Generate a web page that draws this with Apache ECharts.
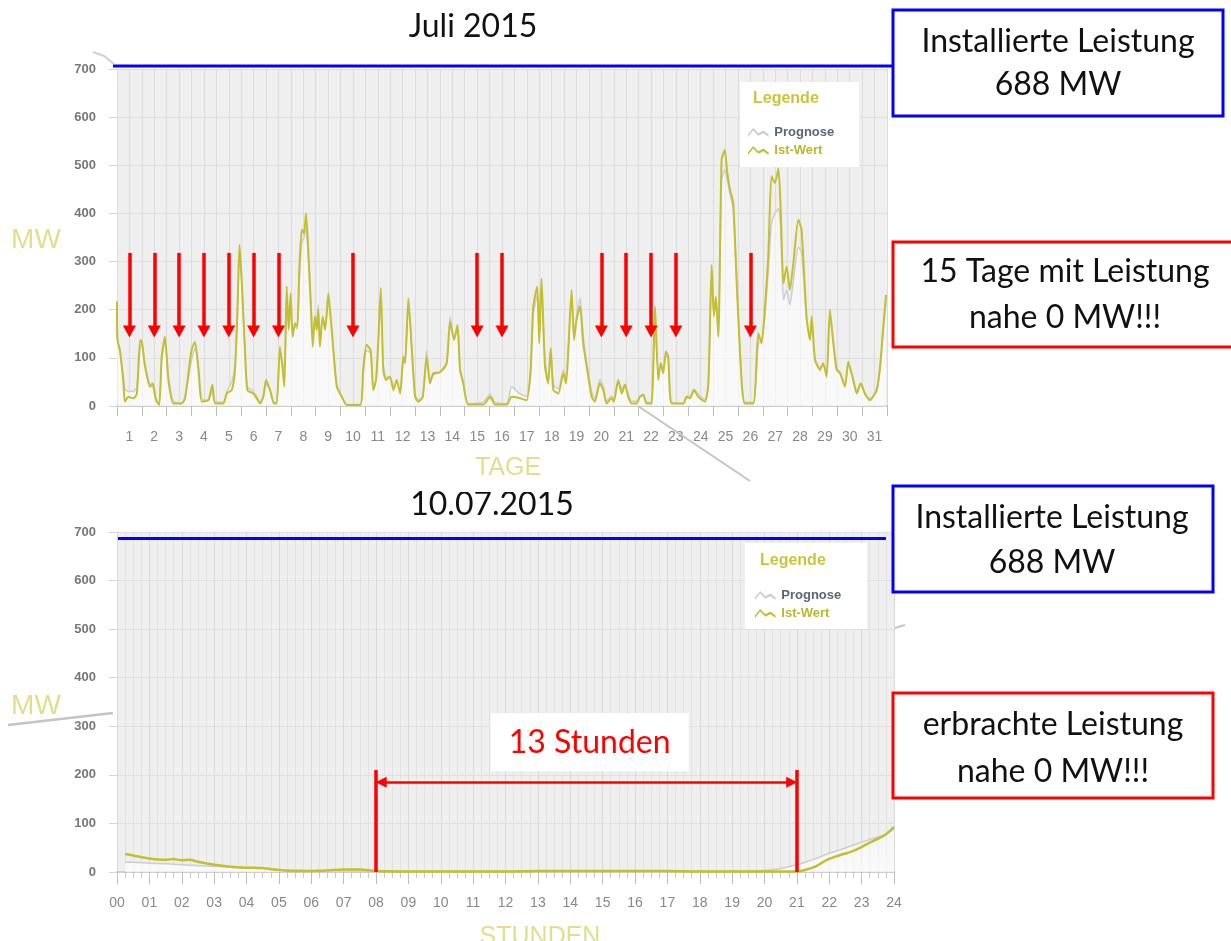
<!DOCTYPE html>
<html>
<head>
<meta charset="utf-8">
<script src="https://cdn.jsdelivr.net/npm/echarts@6/dist/echarts.min.js"></script>
<style>
  html, body { margin: 0; padding: 0; background: #fff; }
  #main { width: 1231px; height: 941px; }
</style>
</head>
<body>
<div id="main"></div>
<script>
  // Juli 2015 – Zeitpunkte in Tagen seit 1.7. 00:00
  const tage = [
    0, 0.02, 0.12, 0.26, 0.32, 0.46, 0.66, 0.8, 0.93,
    1.0, 1.13, 1.33, 1.44, 1.57, 1.7, 1.8, 1.93,
    2.07, 2.27, 2.6, 2.74,
    3.0, 3.14, 3.28, 3.41, 3.68, 3.84, 3.95,
    4.28, 4.42, 4.62, 4.75, 4.85, 4.93,
    5.02, 5.15, 5.25, 5.49, 5.62, 5.76, 5.89,
    6.0, 6.16, 6.32, 6.43, 6.56, 6.67, 6.74, 6.83, 6.91, 6.99,
    7.07, 7.17, 7.26, 7.34, 7.44, 7.53, 7.61, 7.7, 7.81, 7.88, 7.97,
    8.04, 8.1, 8.17, 8.28, 8.38, 8.51, 8.62, 8.71, 8.85,
    9.05, 9.25, 9.79, 9.92,
    10.05, 10.21, 10.32, 10.43, 10.52, 10.62, 10.72, 10.83, 10.99,
    11.13, 11.26, 11.4, 11.53, 11.6, 11.73, 11.87,
    12.0, 12.13, 12.31, 12.47, 12.6, 12.74,
    13.0, 13.27, 13.41, 13.57, 13.71, 13.81, 13.94,
    14.14, 14.75,
    15.02, 15.22, 15.69, 15.89,
    16.22, 16.49, 16.65, 16.76, 16.92,
    17.0, 17.09, 17.23, 17.36, 17.46, 17.57, 17.77, 17.97,
    18.08, 18.17, 18.3, 18.4, 18.5, 18.64, 18.77, 18.91,
    19.11, 19.24, 19.44, 19.58, 19.71, 19.91,
    20.0, 20.18, 20.32, 20.45, 20.58, 20.72, 20.92,
    21.05, 21.19, 21.32, 21.52, 21.66, 21.79, 21.89, 21.99,
    22.1, 22.19, 22.33, 22.8, 22.93,
    23.07, 23.23, 23.4, 23.67, 23.81, 23.94,
    24.03, 24.11, 24.21, 24.34, 24.47, 24.57, 24.68, 24.81, 24.95,
    25.15, 25.28, 25.62, 25.82, 25.95,
    26.09, 26.22, 26.35, 26.49, 26.63, 26.72, 26.83, 26.96,
    27.09, 27.23, 27.43, 27.56, 27.76, 27.9, 27.97,
    28.1, 28.3, 28.43, 28.57, 28.7, 28.84, 28.97,
    29.11, 29.31, 29.44, 29.64, 29.78, 29.94,
    30.11, 30.31, 30.58, 30.72, 30.85, 30.96
  ];
  const istWertMonat = [
    217, 137, 116, 47, 9, 19, 16, 26, 137,
    134, 82, 40, 47, 12, 2, 103, 144,
    54, 5, 5, 16,
    116, 133, 75, 9, 12, 44, 5,
    5, 26, 33, 75, 200, 335,
    262, 116, 33, 26, 16, 5, 19,
    54, 33, 5, 5, 123, 75, 40, 248, 158, 234,
    144, 172, 165, 283, 366, 359, 400, 324, 200, 123, 186,
    158, 200, 123, 186, 158, 234, 172, 116, 40,
    19, 2, 2, 82,
    127, 116, 33, 54, 137, 245, 75, 54, 61,
    33, 54, 26, 103, 89, 224, 116,
    19, 9, 19, 103, 47, 68,
    70, 89, 175, 137, 168, 75, 47,
    3, 3,
    19, 3, 3, 19,
    16, 12, 75, 207, 248,
    130, 265, 82, 47, 120, 33, 26, 68,
    47, 116, 241, 137, 179, 207, 130, 82,
    19, 9, 47, 33, 5, 16,
    9, 54, 26, 44, 19, 5, 5,
    19, 23, 5, 5, 207, 54, 89, 68,
    113, 103, 5, 5, 19,
    16, 33, 19, 9, 47, 293,
    186, 227, 144, 511, 532, 484, 449, 421, 255,
    47, 5, 5, 151, 130,
    207, 310, 477, 463, 494, 407, 255, 290,
    241, 297, 387, 366, 186, 137, 186,
    96, 75, 89, 61, 200, 130, 75,
    68, 40, 92, 54, 26, 47,
    26, 12, 33, 82, 165, 231
  ];
  const prognoseMonat = [
    200, 140, 110, 60, 35, 30, 30, 40, 120,
    130, 85, 45, 40, 15, 5, 95, 135,
    60, 10, 5, 20,
    95, 120, 80, 15, 12, 30, 8,
    8, 30, 50, 85, 190, 310,
    260, 120, 40, 30, 20, 8, 20,
    45, 35, 8, 8, 110, 90, 70, 210, 170, 200,
    150, 165, 160, 260, 340, 350, 370, 310, 210, 150, 180,
    170, 210, 150, 180, 165, 215, 175, 120, 45,
    20, 3, 3, 70,
    115, 110, 40, 55, 125, 220, 85, 60, 60,
    40, 50, 30, 95, 90, 210, 120,
    25, 12, 20, 115, 55, 65,
    70, 85, 185, 140, 160, 80, 50,
    5, 8,
    25, 8, 5, 40,
    25, 20, 60, 190, 230,
    140, 245, 95, 55, 110, 45, 35, 75,
    60, 120, 225, 150, 185, 225, 145, 90,
    30, 15, 55, 40, 10, 20,
    15, 50, 35, 45, 25, 10, 10,
    20, 25, 8, 8, 180, 70, 90, 75,
    105, 95, 8, 5, 20,
    20, 35, 25, 12, 50, 270,
    190, 220, 150, 470, 490, 470, 440, 410, 260,
    55, 8, 8, 130, 135,
    190, 280, 380, 400, 410, 370, 220, 240,
    210, 260, 330, 320, 180, 140, 170,
    100, 80, 85, 65, 185, 135, 80,
    70, 45, 85, 55, 30, 45,
    25, 15, 30, 75, 155, 220
  ];

  // 10.07.2015 – Stunden
  const stunden = [0.25, 0.5, 1, 1.5, 1.75, 2, 2.25, 2.5,
    3, 3.5, 4, 4.5, 5, 5.5, 6, 6.5, 7, 7.5, 8,
    9, 10, 11, 12, 13, 14, 15, 16, 17, 18, 19, 20,
    20.5, 21, 21.3, 21.6, 21.9, 22.3, 22.6, 22.9, 23.3, 23.7, 24];
  const istWertTag = [37, 34, 28, 25, 27, 24, 25, 21,
    15, 11, 9, 8, 4, 2, 2, 3, 5, 5, 2,
    1, 1, 1, 1, 2, 2, 2, 2, 2, 1, 1, 1,
    1, 1, 5, 12, 24, 34, 40, 48, 62, 75, 93];
  const prognoseTag = [20, 20, 18, 17, 16, 15, 14, 13,
    12, 10, 8, 7, 5, 4, 3, 3, 2, 2, 2,
    1, 1, 1, 1, 1, 1, 1, 1, 1, 1, 1, 3,
    7, 15, 21, 28, 36, 45, 52, 59, 68, 77, 88];

  const tagLabels = [];
  for (let d = 1; d <= 31; d++) tagLabels.push(String(d));
  const pfeilTage = [1, 2, 3, 4, 5, 6, 7, 10, 15, 16, 20, 21, 22, 23, 26];
  const installiert = 688;
  const nullStart = 8, nullEnde = 21;

  const GELB = '#c3bf30';
  const GRAU = '#cdcdcd';
  const ROT = '#ff0000';
  const BLAU = '#0000ff';
  const NAME_GELB = '#e2de8e';
  const FONT = 'Lato, "Open Sans", sans-serif';

  const zip = (xs, ys) => xs.map((x, i) => [x, ys[i]]);

  const flaeche = {
    color: new echarts.graphic.LinearGradient(0, 0, 0, 1, [
      { offset: 0, color: 'rgba(255,255,255,0.55)' },
      { offset: 1, color: 'rgba(255,255,255,0.95)' }
    ])
  };

  const myChart = echarts.init(document.getElementById('main'));

  const yAchse = (gridIndex) => ({
    type: 'value', gridIndex: gridIndex, min: 0, max: 700, interval: 100,
    axisLine: { show: false },
    axisTick: { show: true, length: 8, lineStyle: { color: '#d6d6d6' } },
    axisLabel: { color: '#777777', fontWeight: 'bold', fontSize: 13, margin: 21, fontFamily: 'Liberation Sans, Arial, sans-serif' },
    splitLine: { lineStyle: { color: '#e0e0e0', width: 1 } }
  });

  // Pfeile oben (15 Tage nahe 0 MW)
  const pfeile = pfeilTage.map(d => [
    { coord: [d - 0.5, 318], symbol: 'none' },
    { coord: [d - 0.5, 155], symbol: 'triangle', symbolSize: [13, 12] }
  ]);

  const mitte = { textAlign: 'center', textVerticalAlign: 'middle', align: 'center', verticalAlign: 'middle' };

  myChart.setOption({
    animation: false,
    backgroundColor: '#ffffff',
    grid: [
      { left: 117, right: 344, top: 69, height: 337, show: true, backgroundColor: '#efefef', borderWidth: 0 },
      { left: 117, right: 337, top: 532, height: 340, show: true, backgroundColor: '#efefef', borderWidth: 0 }
    ],
    xAxis: [
      {
        type: 'value', gridIndex: 0, min: 0, max: 31, interval: 0.5, position: 'bottom',
        axisLine: { show: false }, axisTick: { show: false }, axisLabel: { show: false },
        splitLine: { show: true, lineStyle: { color: '#dcdcdc' } }
      },
      {
        type: 'category', gridIndex: 0, data: tagLabels, boundaryGap: true, position: 'bottom',
        axisLine: { show: true, lineStyle: { color: '#cfcfcf', width: 2 } },
        axisTick: { show: true, length: 10, lineStyle: { color: '#bdbdbd' } },
        axisLabel: { interval: 0, color: '#888888', fontSize: 14, margin: 24, fontFamily: '"Liberation Sans Narrow", "Arial Narrow", sans-serif' },
        splitLine: { show: false }
      },
      {
        type: 'value', gridIndex: 1, min: 0, max: 24, interval: 1, position: 'bottom',
        axisLine: { show: true, lineStyle: { color: '#cfcfcf', width: 2 } },
        axisTick: { show: true, length: 12, lineStyle: { color: '#bdbdbd' } },
        minorTick: { show: true, splitNumber: 4, length: 6, lineStyle: { color: '#c8c8c8' } },
        axisLabel: {
          color: '#888888', fontSize: 14, margin: 24,
          fontFamily: '"Liberation Sans Narrow", "Arial Narrow", sans-serif',
          formatter: v => (v < 10 ? '0' : '') + v
        },
        splitLine: { show: true, lineStyle: { color: '#d9d9d9' } },
        minorSplitLine: { show: true, lineStyle: { color: '#e2e2e2' } }
      }
    ],
    yAxis: [yAchse(0), yAchse(1)],
    legend: [
      {
        left: 743, top: 121, orient: 'vertical', itemGap: 5, itemWidth: 22, itemHeight: 9, z: 120,
        selectedMode: false,
        icon: 'path://M0,6 L4,1 L8,5 L12,3 L16,6 L16,8 L12,5 L8,7 L4,3 L0,8Z',
        textStyle: { fontSize: 13, fontWeight: 'bold', fontFamily: 'Liberation Sans, Arial, sans-serif' },
        data: [
          { name: 'Prognose', textStyle: { color: '#5e6477' } },
          { name: 'Ist-Wert', textStyle: { color: '#bbb72c' } }
        ]
      },
      {
        left: 750, top: 584, orient: 'vertical', itemGap: 5, itemWidth: 22, itemHeight: 9, z: 120,
        selectedMode: false,
        icon: 'path://M0,6 L4,1 L8,5 L12,3 L16,6 L16,8 L12,5 L8,7 L4,3 L0,8Z',
        textStyle: { fontSize: 13, fontWeight: 'bold', fontFamily: 'Liberation Sans, Arial, sans-serif' },
        data: [
          { name: 'Prognose', textStyle: { color: '#5e6477' } },
          { name: 'Ist-Wert', textStyle: { color: '#bbb72c' } }
        ]
      }
    ],
    series: [
      {
        name: 'Prognose', type: 'line', xAxisIndex: 0, yAxisIndex: 0,
        data: zip(tage, prognoseMonat), showSymbol: false, smooth: 0.2,
        lineStyle: { color: GRAU, width: 1.5 }, itemStyle: { color: GRAU },
        areaStyle: flaeche, z: 2
      },
      {
        name: 'Ist-Wert', type: 'line', xAxisIndex: 0, yAxisIndex: 0,
        data: zip(tage, istWertMonat), showSymbol: false, smooth: 0.2,
        lineStyle: { color: GELB, width: 2 }, itemStyle: { color: GELB }, z: 3,
        markLine: {
          silent: true, animation: false, label: { show: false },
          lineStyle: { color: ROT, width: 3.5, type: 'solid' },
          emphasis: { disabled: true },
          data: pfeile
        }
      },
      {
        name: 'Prognose', type: 'line', xAxisIndex: 2, yAxisIndex: 1,
        data: zip(stunden, prognoseTag), showSymbol: false, smooth: 0.3,
        lineStyle: { color: GRAU, width: 1.5 }, itemStyle: { color: GRAU },
        areaStyle: flaeche, z: 2
      },
      {
        name: 'Ist-Wert', type: 'line', xAxisIndex: 2, yAxisIndex: 1,
        data: zip(stunden, istWertTag), showSymbol: false, smooth: 0.3,
        lineStyle: { color: GELB, width: 2.5 }, itemStyle: { color: GELB }, z: 3,
        markLine: {
          silent: true, animation: false, label: { show: false },
          lineStyle: { color: ROT, width: 3.5, type: 'solid' },
          emphasis: { disabled: true },
          data: [
            [{ coord: [0.03, installiert], symbol: 'none', lineStyle: { color: BLAU, width: 3 } },
             { coord: [23.75, installiert], symbol: 'none' }],
            [{ coord: [nullStart, 0], symbol: 'none' }, { coord: [nullStart, 210], symbol: 'none' }],
            [{ coord: [nullEnde, 0], symbol: 'none' }, { coord: [nullEnde, 210], symbol: 'none' }],
            [{ coord: [nullStart + 0.16, 185], symbol: 'triangle', symbolSize: [11, 11], lineStyle: { color: ROT, width: 2.5 } },
             { coord: [nullEnde - 0.16, 185], symbol: 'triangle', symbolSize: [11, 11] }]
          ]
        },
        markPoint: {
          silent: true, animation: false,
          data: [{
            coord: [14.6, 267], symbol: 'rect', symbolSize: [198, 58],
            itemStyle: { color: '#ffffff' },
            label: { show: true, position: 'inside', formatter: '13 Stunden', color: ROT, fontSize: 32, fontFamily: FONT }
          }]
        }
      }
    ],
    graphic: [
      // Titel
      { type: 'text', x: 473, y: 27, z: 100, style: Object.assign({ text: 'Juli 2015', font: '32px ' + FONT, fill: '#111' }, mitte) },
      { type: 'text', x: 492, y: 505, z: 100, style: Object.assign({ text: '10.07.2015', font: '32px ' + FONT, fill: '#111' }, mitte) },
      // Achsennamen
      { type: 'text', x: 36, y: 240, z: 100, style: Object.assign({ text: 'MW', font: '28px "Liberation Sans", Arial, sans-serif', fill: NAME_GELB }, mitte) },
      { type: 'text', x: 36, y: 706, z: 100, style: Object.assign({ text: 'MW', font: '28px "Liberation Sans", Arial, sans-serif', fill: NAME_GELB }, mitte) },
      { type: 'text', x: 508, y: 468, z: 100, style: Object.assign({ text: 'TAGE', font: '25px "Liberation Sans Narrow", "Liberation Sans", sans-serif', fill: NAME_GELB }, mitte) },
      { type: 'rect', z: 101, shape: { x: 460, y: 478, width: 100, height: 14 }, style: { fill: '#ffffff' } },
      { type: 'text', x: 540, y: 937, z: 100, style: Object.assign({ text: 'STUNDEN', font: '25px "Liberation Sans Narrow", "Liberation Sans", sans-serif', fill: NAME_GELB }, mitte) },
      // Knickfalten des Screenshots
      { type: 'polyline', z: 100, shape: { points: [[93, 52], [104, 56], [114, 64]] }, style: { stroke: '#d0d0d0', lineWidth: 2, fill: null } },
      { type: 'line', z: 100, shape: { x1: 638, y1: 406, x2: 750, y2: 481 }, style: { stroke: '#c4c4c4', lineWidth: 2 } },
      { type: 'line', z: 100, shape: { x1: 8, y1: 725, x2: 113, y2: 713 }, style: { stroke: '#c4c4c4', lineWidth: 2.5 } },
      { type: 'line', z: 100, shape: { x1: 895, y1: 628, x2: 905, y2: 625 }, style: { stroke: '#c4c4c4', lineWidth: 2 } },
      // installierte Leistung oben
      { type: 'line', z: 100, shape: { x1: 113, y1: 66, x2: 893, y2: 66 }, style: { stroke: BLAU, lineWidth: 3 } },
      // Legendenkästen
      { type: 'rect', z: 100, shape: { x: 740, y: 82, width: 119, height: 85 }, style: { fill: '#ffffff' } },
      { type: 'text', x: 753, y: 99, z: 102, style: { text: 'Legende', font: 'bold 16px "Liberation Sans", Arial, sans-serif', fill: '#c9c53b', textVerticalAlign: 'middle', verticalAlign: 'middle' } },
      { type: 'rect', z: 100, shape: { x: 745, y: 543, width: 122, height: 86 }, style: { fill: '#ffffff' } },
      { type: 'text', x: 760, y: 561, z: 102, style: { text: 'Legende', font: 'bold 16px "Liberation Sans", Arial, sans-serif', fill: '#c9c53b', textVerticalAlign: 'middle', verticalAlign: 'middle' } },
      // Textkästen rechts
      { type: 'rect', z: 100, shape: { x: 893, y: 10, width: 330, height: 106 }, style: { fill: '#ffffff', stroke: BLAU, lineWidth: 3 } },
      { type: 'text', x: 1058, y: 63, z: 102, style: Object.assign({ text: 'Installierte Leistung\n688 MW', font: '32px ' + FONT, lineHeight: 43, fill: '#111' }, mitte) },
      { type: 'rect', z: 100, shape: { x: 893, y: 242, width: 360, height: 105 }, style: { fill: '#ffffff', stroke: ROT, lineWidth: 3 } },
      { type: 'text', x: 1065, y: 295, z: 102, style: Object.assign({ text: '15 Tage mit Leistung\nnahe 0 MW!!!', font: '32px ' + FONT, lineHeight: 46, fill: '#111' }, mitte) },
      { type: 'rect', z: 100, shape: { x: 893, y: 486, width: 320, height: 106 }, style: { fill: '#ffffff', stroke: BLAU, lineWidth: 3 } },
      { type: 'text', x: 1052, y: 540, z: 102, style: Object.assign({ text: 'Installierte Leistung\n688 MW', font: '32px ' + FONT, lineHeight: 45, fill: '#111' }, mitte) },
      { type: 'rect', z: 100, shape: { x: 893, y: 693, width: 320, height: 105 }, style: { fill: '#ffffff', stroke: ROT, lineWidth: 3 } },
      { type: 'text', x: 1053, y: 748, z: 102, style: Object.assign({ text: 'erbrachte Leistung\nnahe 0 MW!!!', font: '32px ' + FONT, lineHeight: 47, fill: '#111' }, mitte) }
    ]
  });

  window.addEventListener('resize', () => {
    myChart.resize();
  });
</script>
</body>
</html>
